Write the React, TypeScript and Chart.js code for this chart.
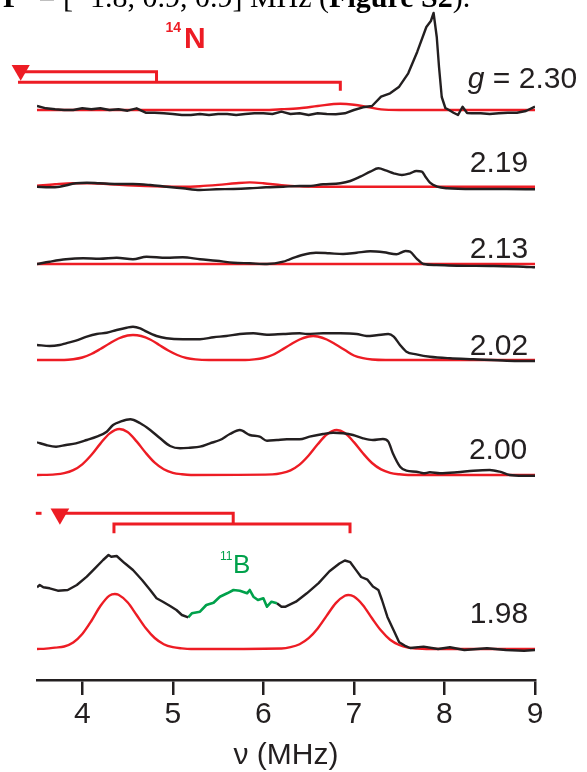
import React, { useEffect, useRef } from 'react';
import { Chart, registerables } from 'chart.js';

Chart.register(...registerables);

const INK = '#231f20';
const RED = '#ed1c24';
const GREEN = '#00a14b';
const FONT = '"Liberation Sans", Arial, Helvetica, sans-serif';

const X_MIN = 3.5;
const X_MAX = 9;
const X_TICKS = [4, 5, 6, 7, 8, 9];

// trace baselines (vertical offsets, arbitrary intensity units)
const OFFSETS = [570, 493.3, 416, 320, 205, 31];
const G_LABELS = ['2.30', '2.19', '2.13', '2.02', '2.00', '1.98'];
const G_LABEL_X = [9.465, 8.924, 8.924, 8.924, 8.915, 8.924];
const G_LABEL_Y = [592, 508.3, 421.7, 325, 221, 57];

// g = 2.30
const B230_X = [3.5, 3.6, 3.7, 3.8, 3.9, 4.0, 4.1, 4.2, 4.3, 4.4, 4.5, 4.6, 4.7, 4.8, 4.9, 5.0, 5.1, 5.2, 5.3, 5.4, 5.5, 5.6, 5.7, 5.8, 5.9, 6.0, 6.1, 6.2, 6.3, 6.4, 6.5, 6.6, 6.7, 6.8, 6.9, 7.0, 7.1, 7.2, 7.3, 7.4, 7.5, 7.6, 7.7, 7.8, 7.85, 7.88, 7.915, 7.94, 7.97, 8.01, 8.05, 8.1, 8.15, 8.2, 8.25, 8.3, 8.4, 8.5, 8.6, 8.7, 8.8, 8.9, 9.0];
const B230_Y = [4, 1.7, 0.7, 0, 0, 1.7, 0.7, 1.7, 0, 0.7, -0.7, 1.7, -2.7, -2.7, -3.3, -4, -5, -5, -4, -5, -4, -4, -5, -4, -3.3, -3.3, -4, -1.7, -4, -3.3, -5, -3.3, -4, -4.3, -3.3, 0, 2.7, 4, 13.3, 16.7, 23.3, 36.7, 58.3, 83, 89, 97, 73, 43, 13, 2, 0, -2.7, -5, 3.3, -3, -3.3, -3.3, -4, -3.3, -2.7, -2.7, -1, 3.3];
const R230_X = [3.5, 6.0, 6.2, 6.4, 6.6, 6.85, 7.0, 7.15, 7.3, 7.5, 9.0];
const R230_Y = [0, 0, 0.7, 1.8, 4, 6.3, 5.3, 3, 0.6, 0, 0];

// g = 2.19
const B219_X = [3.5, 3.64, 3.75, 3.93, 4.05, 4.19, 4.38, 4.56, 4.75, 4.93, 5.11, 5.3, 5.48, 5.67, 5.85, 6.03, 6.22, 6.4, 6.48, 6.66, 6.85, 6.96, 7.07, 7.18, 7.27, 7.36, 7.44, 7.53, 7.62, 7.69, 7.75, 7.79, 7.84, 7.92, 8.03, 8.32, 8.69, 9.0];
const B219_Y = [0, -0.6, 0, 3.4, 4, 3.4, 2.7, 2.7, 1.7, 0, -1.6, -3.3, -2.6, -2.3, -1.6, -0.6, 0, 0.7, 0.7, 2.4, 3.4, 5.7, 10, 15, 18.4, 16, 13.4, 11.7, 13.4, 15.7, 15, 10, 4, 0, -1.6, -2.3, -2.3, -2.6];
const R219_X = [3.5, 3.7, 3.9, 4.1, 4.3, 4.5, 4.7, 4.9, 5.1, 5.3, 5.5, 5.7, 5.85, 6.0, 6.2, 6.4, 6.6, 9.0];
const R219_Y = [1, 2.5, 3.5, 3.5, 2.5, 1.5, 0.7, 0.2, 0, 0.5, 1.8, 3.5, 4.3, 3.5, 1.5, 0.3, 0, 0];

// g = 2.13
const B213_X = [3.5, 3.64, 3.82, 4.01, 4.19, 4.38, 4.56, 4.71, 4.93, 5.11, 5.3, 5.48, 5.67, 5.85, 6.04, 6.22, 6.29, 6.43, 6.58, 6.73, 6.88, 7.03, 7.18, 7.33, 7.47, 7.57, 7.62, 7.69, 7.77, 7.91, 8.14, 8.5, 8.87, 9.0];
const B213_Y = [0, 2.3, 4.7, 5.7, 5.3, 6.3, 4.7, 7.3, 6.3, 6.7, 4.7, 3.3, 1.3, 0.7, 0, 2.3, 4.7, 9, 11.3, 10.7, 10, 11.3, 12.7, 11.7, 9.7, 13, 12.3, 5.7, 0, -1, -1.7, -2, -2.7, -3.3];
const R213_X = [3.5, 9.0];
const R213_Y = [0, 0];

// g = 2.02
const B202_X = [3.5, 3.64, 3.75, 3.82, 3.93, 4.05, 4.16, 4.27, 4.38, 4.49, 4.56, 4.64, 4.71, 4.82, 4.93, 5.11, 5.3, 5.45, 5.59, 5.74, 5.89, 6.04, 6.22, 6.4, 6.48, 6.66, 6.85, 7.03, 7.14, 7.25, 7.38, 7.44, 7.51, 7.58, 7.69, 7.84, 8.06, 8.32, 8.69, 9.0];
const B202_Y = [15, 14, 15, 16.7, 19.3, 23.3, 26, 27.3, 30, 32.3, 33.3, 31.7, 28.3, 24, 21.7, 20.7, 20.7, 22.7, 24, 26, 26.7, 25.3, 26, 26.7, 26, 26.7, 26.7, 26, 24, 24.7, 26, 23.3, 15, 8.3, 5.7, 3.3, 1.7, 0.7, -0.7, -1];
const R202_X = [3.5, 3.8, 3.9, 4.0, 4.1, 4.2, 4.3, 4.4, 4.5, 4.56, 4.65, 4.75, 4.85, 4.95, 5.05, 5.15, 5.25, 5.4, 5.8, 5.9, 6.0, 6.1, 6.2, 6.3, 6.4, 6.5, 6.55, 6.6, 6.7, 6.8, 6.9, 7.0, 7.1, 7.2, 7.35, 9.0];
const R202_Y = [0, 0, 0.8, 2.5, 6, 11, 16.5, 21.5, 24.5, 25, 24, 20.5, 15, 9.5, 5, 2, 0.6, 0, 0, 0.6, 2, 5, 10, 15.5, 20.5, 23.5, 24, 23.5, 20.5, 15.5, 10, 4.5, 1.8, 0.5, 0, 0];

// g = 2.00
const B200_X = [3.5, 3.6, 3.71, 3.82, 3.93, 4.05, 4.16, 4.27, 4.34, 4.42, 4.53, 4.64, 4.75, 4.86, 4.97, 5.08, 5.19, 5.3, 5.41, 5.52, 5.63, 5.74, 5.85, 5.96, 6.04, 6.15, 6.26, 6.4, 6.51, 6.66, 6.77, 6.88, 6.99, 7.1, 7.21, 7.32, 7.38, 7.43, 7.51, 7.58, 7.69, 7.77, 7.84, 7.95, 8.14, 8.32, 8.5, 8.61, 8.72, 8.87, 9.0];
const B200_Y = [32.7, 30, 28.3, 30, 31.7, 35, 38.3, 43.3, 50, 53.3, 55.7, 51.7, 45, 36.7, 29, 26.7, 27.3, 28.3, 31.7, 35, 41, 45, 40, 38.3, 34.3, 35, 35.7, 35.7, 38.3, 41, 42.3, 41.7, 40, 36.7, 35, 36, 33.3, 21.7, 8.3, 4.3, 3.3, 1.7, 2.7, 1.7, 2.7, 4.3, 5, 3.3, 0, -0.7, -0.7];
const R200_X = [3.5, 3.7, 3.8, 3.9, 4.0, 4.1, 4.2, 4.3, 4.41, 4.5, 4.6, 4.7, 4.8, 4.9, 5.0, 5.1, 5.2, 6.1, 6.2, 6.3, 6.4, 6.5, 6.6, 6.7, 6.81, 6.9, 7.0, 7.1, 7.2, 7.3, 7.4, 7.5, 7.6, 9.0];
const R200_Y = [0, 0.6, 1.8, 4.8, 10.7, 20, 31.4, 41.4, 46, 42.9, 33.6, 22.2, 12.3, 5.7, 2.2, 0.7, 0, 0.6, 1.8, 4.7, 10.4, 19.5, 30.7, 40.5, 45, 41.9, 32.9, 21.7, 12, 5.6, 2.2, 0.7, 0, 0];

// g = 1.98 (black, 11B part in green, black)
const B198A_X = [3.5, 3.53, 3.57, 3.64, 3.73, 3.84, 3.94, 4.05, 4.14, 4.23, 4.29, 4.32, 4.38, 4.47, 4.56, 4.66, 4.75, 4.82, 4.89, 4.97, 5.04, 5.1, 5.17];
const B198A_Y = [61.7, 64, 61.7, 60.7, 58.3, 59, 64, 72.3, 80.7, 89, 94, 92.3, 93, 85.7, 79, 69, 59, 50.7, 47.3, 43, 39, 34, 31.7];
const G198_X = [5.17, 5.21, 5.3, 5.37, 5.45, 5.52, 5.6, 5.67, 5.74, 5.82, 5.85, 5.89, 5.94, 6.0, 6.04, 6.09, 6.15];
const G198_Y = [31.7, 35.7, 37.3, 44, 46.3, 52.3, 55.7, 59, 58.3, 55.7, 59, 52.3, 49, 50.7, 42.3, 47.3, 45.7];
const B198B_X = [6.15, 6.2, 6.24, 6.36, 6.48, 6.61, 6.73, 6.84, 6.9, 6.96, 7.02, 7.08, 7.15, 7.21, 7.27, 7.31, 7.37, 7.44, 7.5, 7.56, 7.62, 7.77, 7.93, 8.06, 8.22, 8.47, 8.68, 8.88, 9.0];
const B198B_Y = [45.7, 42.3, 42.2, 47.3, 55.7, 65.9, 77.7, 85.5, 88.5, 86.8, 79.4, 72, 69.3, 62.5, 59.1, 49, 32.1, 18.6, 6.8, 3.4, 1, 2.4, 0, 1.7, -1, 0.7, -1, -1.7, -1];
const R198_X = [3.5, 3.6, 3.7, 3.8, 3.9, 4.0, 4.1, 4.2, 4.3, 4.36, 4.4, 4.5, 4.6, 4.7, 4.8, 4.9, 5.0, 5.1, 5.2, 6.2, 6.3, 6.4, 6.5, 6.6, 6.7, 6.8, 6.9, 6.94, 7.0, 7.1, 7.2, 7.3, 7.4, 7.5, 7.6, 7.7, 7.8, 9.0];
const R198_Y = [0, 0.4, 1.4, 2.5, 6.5, 15, 28, 43, 53.4, 55, 54.3, 46.7, 34, 21, 11, 4.8, 1.8, 0.6, 0, 0.5, 1.8, 4.8, 10.8, 20.6, 33.4, 45.9, 53.3, 54, 52.4, 43.8, 30.7, 18.4, 9.2, 4, 1.4, 0.4, 0, 0];

// stick diagrams
const N14_LOW_X = [3.29, 6.85, 6.85];
const N14_LOW_Y = [597.7, 597.7, 589.3];
const N14_UP_X = [3.31, 3.31, 4.82, 4.82];
const N14_UP_Y = [597.7, 608.3, 608.3, 597.7];
const N14_TRI_X = [3.32];
const N14_TRI_Y = [609.7];
const B11_DASH_X = [3.487, 3.55];
const B11_DASH_Y = [166.7, 166.7];
const B11_TOP_X = [3.75, 5.667, 5.667];
const B11_TOP_Y = [166.7, 166.7, 156];
const B11_BR_X = [4.35, 4.35, 6.957, 6.957];
const B11_BR_Y = [146.7, 156, 156, 146.7];
const B11_TRI_X = [3.753];
const B11_TRI_Y = [166.1];
const TRI_R = [10.5, 10.8];

const pts = (xs: number[], ys: number[], off = 0) => xs.map((x, i) => ({ x, y: off + ys[i] }));

const trace = (xs: number[], ys: number[], off: number, color: string, w: number, smooth = true) => ({
  type: 'line' as const,
  data: pts(xs, ys, off),
  borderColor: color,
  borderWidth: w,
  pointRadius: 0,
  fill: false,
  tension: smooth ? 0.4 : 0,
  cubicInterpolationMode: smooth ? ('monotone' as const) : ('default' as const),
  borderJoinStyle: 'round' as const,
});

const stick = (xs: number[], ys: number[]) => ({
  type: 'line' as const,
  data: pts(xs, ys),
  borderColor: RED,
  borderWidth: 3,
  pointRadius: 0,
  fill: false,
  tension: 0,
  clip: false as const,
  borderJoinStyle: 'miter' as const,
  borderCapStyle: 'butt' as const,
});

// triangles (drawn through the scales; the 14N one lies left of the axis start)
const TRIS = [
  { xs: N14_TRI_X, ys: N14_TRI_Y, r: TRI_R[0] },
  { xs: B11_TRI_X, ys: B11_TRI_Y, r: TRI_R[1] },
];

const labelPlugin = {
  id: 'specLabels',
  afterDatasetsDraw(chart: any) {
    const ctx = chart.ctx as CanvasRenderingContext2D;
    const xs = chart.scales.x;
    const ys = chart.scales.y;
    ctx.save();
    ctx.fillStyle = RED;
    TRIS.forEach((t) => {
      t.xs.forEach((xv, i) => {
        const x = xs.getPixelForValue(xv);
        const y = ys.getPixelForValue(t.ys[i]);
        const r = t.r;
        ctx.beginPath();
        ctx.moveTo(x - r * 0.866, y - r / 2);
        ctx.lineTo(x + r * 0.866, y - r / 2);
        ctx.lineTo(x, y + r);
        ctx.closePath();
        ctx.fill();
      });
    });
    ctx.textBaseline = 'alphabetic';
    ctx.fillStyle = INK;
    G_LABELS.forEach((t, i) => {
      const x = xs.getPixelForValue(G_LABEL_X[i]);
      const y = ys.getPixelForValue(G_LABEL_Y[i]);
      ctx.font = `30px ${FONT}`;
      ctx.textAlign = 'right';
      if (i === 0) {
        const rest = ' = ' + t;
        ctx.fillText(rest, x, y);
        const w = ctx.measureText(rest).width;
        ctx.font = `italic 30px ${FONT}`;
        ctx.fillText('g', x - w, y);
      } else {
        ctx.fillText(t, x, y);
      }
    });
    // 14N
    ctx.textAlign = 'left';
    ctx.fillStyle = RED;
    ctx.font = `bold 14px ${FONT}`;
    ctx.fillText('14', xs.getPixelForValue(4.92), ys.getPixelForValue(648));
    ctx.font = `bold 30px ${FONT}`;
    ctx.fillText('N', xs.getPixelForValue(5.123), ys.getPixelForValue(631.7));
    // 11B
    ctx.fillStyle = GREEN;
    ctx.font = `12px ${FONT}`;
    ctx.fillText('11', xs.getPixelForValue(5.52), ys.getPixelForValue(120));
    ctx.font = `26px ${FONT}`;
    ctx.fillText('B', xs.getPixelForValue(5.664), ys.getPixelForValue(107.3));
    ctx.restore();
  },
};

export default function App() {
  const ref = useRef<HTMLCanvasElement>(null);
  useEffect(() => {
    if (!ref.current) return;
    const datasets: any[] = [
      trace(B230_X, B230_Y, OFFSETS[0], INK, 2.4, false),
      trace(B219_X, B219_Y, OFFSETS[1], INK, 2.4),
      trace(B213_X, B213_Y, OFFSETS[2], INK, 2.4),
      trace(B202_X, B202_Y, OFFSETS[3], INK, 2.4),
      trace(B200_X, B200_Y, OFFSETS[4], INK, 2.4),
      trace(B198A_X, B198A_Y, OFFSETS[5], INK, 2.4, false),
      trace(G198_X, G198_Y, OFFSETS[5], GREEN, 2.6, false),
      trace(B198B_X, B198B_Y, OFFSETS[5], INK, 2.4, false),
      trace(R230_X, R230_Y, OFFSETS[0], RED, 2.4),
      trace(R219_X, R219_Y, OFFSETS[1], RED, 2.4),
      trace(R213_X, R213_Y, OFFSETS[2], RED, 2.4),
      trace(R202_X, R202_Y, OFFSETS[3], RED, 2.4),
      trace(R200_X, R200_Y, OFFSETS[4], RED, 2.4),
      trace(R198_X, R198_Y, OFFSETS[5], RED, 2.4),
      stick(N14_UP_X, N14_UP_Y),
      stick(N14_LOW_X, N14_LOW_Y),
      stick(B11_DASH_X, B11_DASH_Y),
      stick(B11_TOP_X, B11_TOP_Y),
      stick(B11_BR_X, B11_BR_Y),
    ];
    const chart = new Chart(ref.current, {
      type: 'line',
      data: { datasets },
      options: {
        animation: false,
        responsive: false,
        maintainAspectRatio: false,
        layout: { padding: { left: 37, right: 52, top: 0, bottom: 0 } },
        plugins: { legend: { display: false }, tooltip: { enabled: false } },
        scales: {
          x: {
            type: 'linear',
            min: X_MIN,
            max: X_MAX,
            afterBuildTicks: (s: any) => {
              s.ticks = X_TICKS.map((v) => ({ value: v }));
            },
            afterFit: (s: any) => {
              s.height = 92;
            },
            grid: { drawOnChartArea: false, drawTicks: true, tickLength: 15, color: INK, lineWidth: 2.5 },
            border: { display: true, color: INK, width: 2.5 },
            ticks: { color: INK, font: { family: FONT, size: 30 }, padding: 2, maxRotation: 0, autoSkip: false },
            title: { display: true, text: 'ν (MHz)', color: INK, font: { family: FONT, size: 30, lineHeight: 0.8 }, padding: { top: 0, bottom: 4 } },
          },
          y: { type: 'linear', display: false, min: 0, max: 680 },
        },
      },
      plugins: [labelPlugin],
    });
    return () => chart.destroy();
  }, []);

  const serif = '"Liberation Serif", "Times New Roman", serif';
  return (
    <div style={{ position: 'absolute', left: 0, top: 0, width: 587, height: 772, overflow: 'hidden', background: '#fff' }}>
      <canvas ref={ref} width={587} height={772} style={{ position: 'absolute', left: 0, top: 0, width: 587, height: 772 }} />
      <div style={{ position: 'absolute', left: 3, top: -17.6, fontFamily: serif, fontSize: 30, lineHeight: '30px', whiteSpace: 'nowrap', color: '#000' }}>
        <b>P</b>
      </div>
      <div style={{ position: 'absolute', left: 38.6, top: -17.6, fontFamily: serif, fontSize: 30, lineHeight: '30px', whiteSpace: 'nowrap', color: '#000' }}>
        = [−1.8, 0.9, 0.9] MHz (<b>Figure S2</b>).
      </div>
    </div>
  );
}
